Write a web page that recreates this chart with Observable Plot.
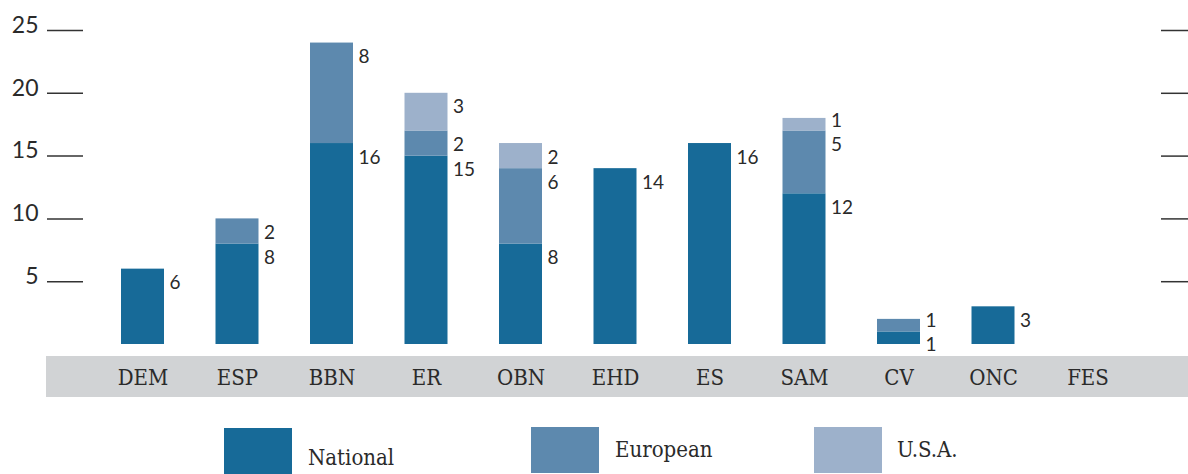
<!DOCTYPE html>
<html>
<head>
<meta charset="utf-8">
<script src="https://cdn.jsdelivr.net/npm/d3@7"></script>
<script src="https://cdn.jsdelivr.net/npm/@observablehq/plot@0.6"></script>
<style>
  html, body { margin: 0; padding: 0; background: #fff; }
  #chart svg { display: block; }
</style>
</head>
<body>
<div id="chart"></div>
<script>
// ---- data ----
const categories = ["DEM", "ESP", "BBN", "ER", "OBN", "EHD", "ES", "SAM", "CV", "ONC", "FES"];
const national   = [6, 8, 16, 15, 8, 14, 16, 12, 1, 3, 0];
const european   = [0, 2, 8, 2, 6, 0, 0, 5, 1, 0, 0];
const usa        = [0, 0, 0, 3, 2, 0, 0, 1, 0, 0, 0];
const seriesNames = ["National", "European", "U.S.A."];
const seriesColors = ["#176a98", "#5d89ae", "#9db1cb"];
const yTicks = [5, 10, 15, 20, 25];

// ---- build long table ----
const seriesValues = [national, european, usa];
const rows = [];
categories.forEach((c, i) => {
  let cum = 0;
  seriesValues.forEach((arr, s) => {
    const v = arr[i];
    if (v > 0) {
      cum += v;
      rows.push({category: c, series: seriesNames[s], s, value: v, top: cum});
    }
  });
});
const topS = {};
rows.forEach(r => { topS[r.category] = Math.max(topS[r.category] ?? -1, r.s); });
rows.forEach(r => { r.isTop = r.s === topS[r.category]; });

// ---- layout ----
const W = 1188, H = 410;
const xRange = [121, 1109], padInner = 0.545;
const step = (xRange[1] - xRange[0]) / (categories.length - padInner);
const bw = step * (1 - padInner);
const labelDx = bw / 2 + 5;
const numFont = "Lato, 'Open Sans', sans-serif";
const catFont = "'DejaVu Serif Condensed', 'DejaVu Serif', serif";
const ink = "#2a2a2a";

const labelsA = rows.filter(r => r.value >= 2);
const labelsB = rows.filter(r => r.value < 2 && r.isTop);
const labelsC = rows.filter(r => r.value < 2 && !r.isTop);
const textOpts = {x: "category", y: "top", text: d => String(d.value), dx: labelDx,
  textAnchor: "start", fontSize: 19, fontFamily: numFont, fill: ink};

const plot = Plot.plot({
  width: W,
  height: H,
  marginLeft: 83,
  marginRight: 28,
  marginTop: 30,
  marginBottom: 66,
  style: {color: ink, background: "transparent", overflow: "visible"},
  x: {domain: categories, range: xRange, paddingInner: padInner, paddingOuter: 0, round: false},
  y: {domain: [0, 25]},
  color: {domain: seriesNames, range: seriesColors},
  marks: [
    Plot.barY(rows, {x: "category", y: "value", fill: "series", order: seriesNames}),
    Plot.text(labelsA, {...textOpts, dy: 14}),
    Plot.text(labelsB, {...textOpts, dy: 2}),
    Plot.text(labelsC, {...textOpts, dy: 13}),
    Plot.axisY({ticks: yTicks, tickSize: 36, tickFormat: () => "", label: null, strokeWidth: 1.5, stroke: "#333"}),
    Plot.axisY({ticks: yTicks, tickSize: 0, tickPadding: 45, dy: -5, label: null,
      fontSize: 23, fontFamily: numFont, fill: ink}),
    Plot.axisY({anchor: "right", ticks: yTicks, tickSize: 28, tickFormat: () => "", label: null, strokeWidth: 1.5, stroke: "#333"}),
    Plot.axisX({tickSize: 0, tickPadding: 25, label: null, fontSize: 22, fontFamily: catFont, fill: ink})
  ]
});

// gray category band behind the axis labels (decoration)
d3.select(plot).insert("rect", ":first-child")
  .attr("x", 46).attr("y", 356).attr("width", W - 46).attr("height", 41)
  .attr("fill", "#d1d3d5");

document.getElementById("chart").appendChild(plot);

// ---- legend ----
const legendPos = [
  {x: 224, y: 18, tx: 308, ty: 55},
  {x: 531, y: 17, tx: 615, ty: 47},
  {x: 814, y: 17, tx: 897, ty: 47}
];
const legend = d3.create("svg").attr("width", W).attr("height", 64).style("display", "block");
seriesNames.forEach((name, i) => {
  const p = legendPos[i];
  legend.append("rect").attr("x", p.x).attr("y", p.y).attr("width", 68).attr("height", 46)
    .attr("fill", seriesColors[i]);
  legend.append("text").attr("x", p.tx).attr("y", p.ty).text(name)
    .attr("font-family", catFont).attr("font-size", 22).attr("fill", ink);
});
document.getElementById("chart").appendChild(legend.node());
</script>
</body>
</html>
